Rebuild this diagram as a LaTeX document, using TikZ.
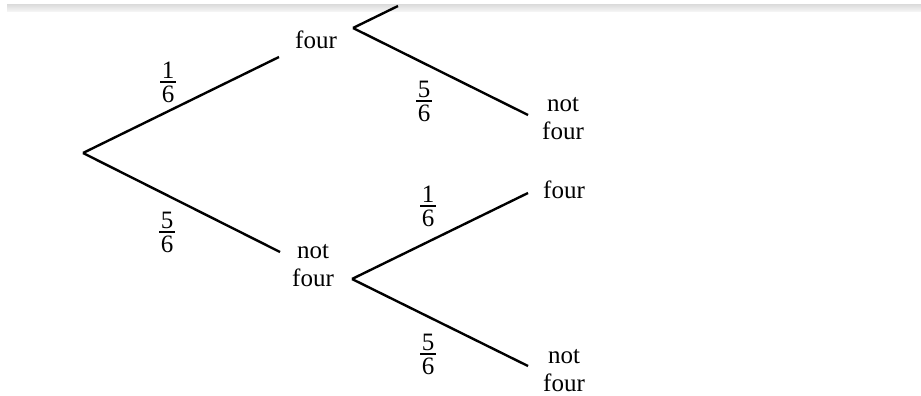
\documentclass[tikz,border=0pt]{standalone}
\usepackage{fontspec}
\setmainfont{Liberation Serif}
\newcommand\myfrac[2]{\vbox{\offinterlineskip\halign{\hfil\kern1.5pt##\kern1.5pt\hfil\cr\vrule height17pt depth0pt width0pt #1\cr\noalign{\kern2.5pt\hrule height1.3pt\kern2.5pt}\vrule height17pt depth0pt width0pt #2\cr}}}
\begin{document}
\begin{tikzpicture}[x=1pt,y=-1pt,
  branch/.style={line width=2.4pt,line cap=butt},
  lab/.style={inner sep=0pt,align=center,font=\fontsize{25}{28}\selectfont},
  prob/.style={inner sep=0pt,font=\fontsize{25}{28}\selectfont}]
\useasboundingbox (0,0) rectangle (921,396);
\fill[white] (0,0) rectangle (921,396);
% band at top
\shade[top color=black!13,bottom color=black!3] (7,5) rectangle (921,12);
% endpoints
\coordinate (r) at (83,153);
\coordinate (a1) at (279,57);
\coordinate (b1) at (280,252);
\coordinate (av) at (353,28);
\coordinate (aup) at (398,6);
\coordinate (adn) at (528,115);
\coordinate (bv) at (352,279);
\coordinate (bup) at (528,193);
\coordinate (bdn) at (528,366);
% connectors
\draw[branch] (r) -- (a1);
\draw[branch] (r) -- (b1);
\draw[branch] (av) -- (aup);
\draw[branch] (av) -- (adn);
\draw[branch] (bv) -- (bup);
\draw[branch] (bv) -- (bdn);
% labels
\node[lab] (n1) at (316,40) {four};
\node[lab] (n2) at (313,266) {not\\four};
\node[lab] (n3) at (563,119) {not\\four};
\node[lab] (n4) at (564,190) {four};
\node[lab] (n5) at (564,371) {not\\four};
\node[prob] (p1) at (168,82) {\myfrac{1}{6}};
\node[prob] (p2) at (167,232) {\myfrac{5}{6}};
\node[prob] (p3) at (424,101) {\myfrac{5}{6}};
\node[prob] (p4) at (428,206) {\myfrac{1}{6}};
\node[prob] (p5) at (428,354) {\myfrac{5}{6}};
\end{tikzpicture}
\end{document}
